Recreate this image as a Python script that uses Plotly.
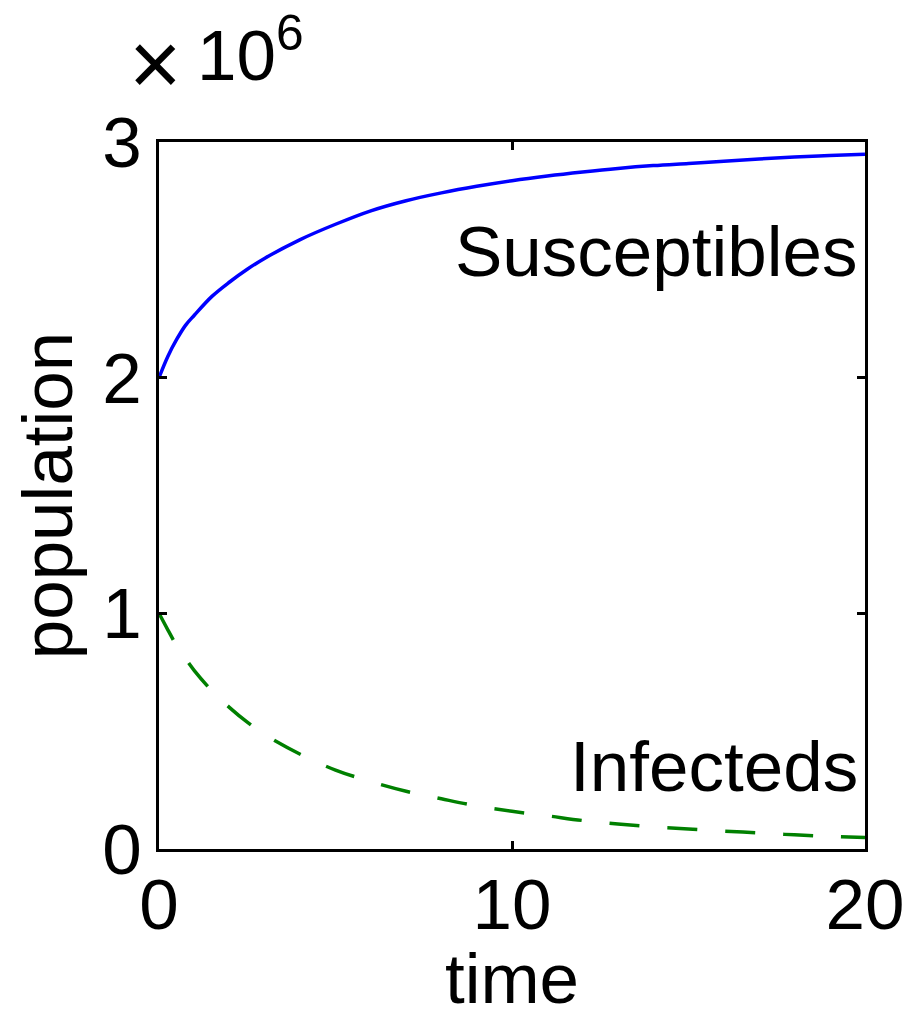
import plotly.graph_objects as go

# time points
time = [0, 0.25, 0.5, 0.75, 1, 1.5, 2, 2.5, 3, 4, 5, 6, 7, 8, 9, 10,
        11, 12, 13, 14, 15, 16, 17, 18, 19, 20]
# values read in millions
susceptibles_m = [2.00, 2.09, 2.162, 2.222, 2.265, 2.345, 2.406, 2.46, 2.507, 2.586, 2.651,
                  2.708, 2.751, 2.784, 2.812, 2.836, 2.856, 2.873, 2.888, 2.900, 2.909,
                  2.918, 2.928, 2.936, 2.943, 2.948]
infecteds_m = [1.0, 0.93, 0.863, 0.808, 0.757, 0.671, 0.60, 0.538, 0.485, 0.402, 0.335,
               0.286, 0.245, 0.213, 0.183, 0.160, 0.141, 0.121, 0.106, 0.094, 0.085,
               0.076, 0.068, 0.060, 0.054, 0.049]
susceptibles = [v * 1e6 for v in susceptibles_m]
infecteds = [v * 1e6 for v in infecteds_m]

x_ticks = [0, 10, 20]
y_tickvals = [0, 1e6, 2e6, 3e6]
y_ticktext = ["0", "1", "2", "3"]

FONT = "Liberation Sans, Arial, Helvetica, sans-serif"
FS_TICK = 71
FS_TEXT = 71

fig = go.Figure()
fig.add_trace(go.Scatter(x=time, y=susceptibles, mode="lines",
                         line=dict(color="#0000FF", width=3.5, shape="spline"),
                         showlegend=False))
fig.add_trace(go.Scatter(x=time, y=infecteds, mode="lines",
                         line=dict(color="#008000", width=3.5, dash="30px,28px", shape="spline"),
                         showlegend=False))

axis_common = dict(showline=True, linecolor="black", linewidth=3, mirror="ticks",
                   ticks="inside", ticklen=8, tickwidth=3, tickcolor="black",
                   showgrid=False, zeroline=False,
                   tickfont=dict(family=FONT, size=FS_TICK, color="black"))

fig.update_xaxes(range=[0, 20], tickvals=x_ticks, ticklabelstandoff=-8,
                 title=dict(text="time", font=dict(family=FONT, size=FS_TEXT, color="black"), standoff=0),
                 **axis_common)
fig.update_yaxes(range=[0, 3e6], tickvals=y_tickvals, ticktext=y_ticktext,
                 title=dict(text="population", font=dict(family=FONT, size=FS_TEXT, color="black"), standoff=20),
                 **axis_common)

fig.add_annotation(x=19.86, y=2.535e6, xref="x", yref="y", text="Susceptibles",
                   showarrow=False, xanchor="right", yanchor="middle",
                   font=dict(family=FONT, size=FS_TEXT, color="black"))
fig.add_annotation(x=19.86, y=0.35e6, xref="x", yref="y", text="Infecteds",
                   showarrow=False, xanchor="right", yanchor="middle",
                   font=dict(family=FONT, size=FS_TEXT, color="black"))

# page has an 8px body margin, so the figure is offset by 8px; compensate
ML, MR, MT, MB = 151, 59, 134, 169
fig.update_layout(width=916, height=1010,
                  margin=dict(l=ML, r=MR, t=MT, b=MB),
                  plot_bgcolor="white", paper_bgcolor="white")

pw, ph = 916 - ML - MR, 1010 - MT - MB
fig.add_annotation(x=(155 - 159) / pw, y=(849 - 64) / ph, xref="paper", yref="paper",
                   text="×", showarrow=False, xanchor="center", yanchor="middle",
                   font=dict(family=FONT, size=90, color="black"))
fig.add_annotation(x=(195 - 159) / pw, y=(849 - 50) / ph, xref="paper", yref="paper",
                   text="10<sup>6</sup>", showarrow=False, xanchor="left", yanchor="middle",
                   font=dict(family=FONT, size=FS_TICK, color="black"))

fig.write_html("out.html")
